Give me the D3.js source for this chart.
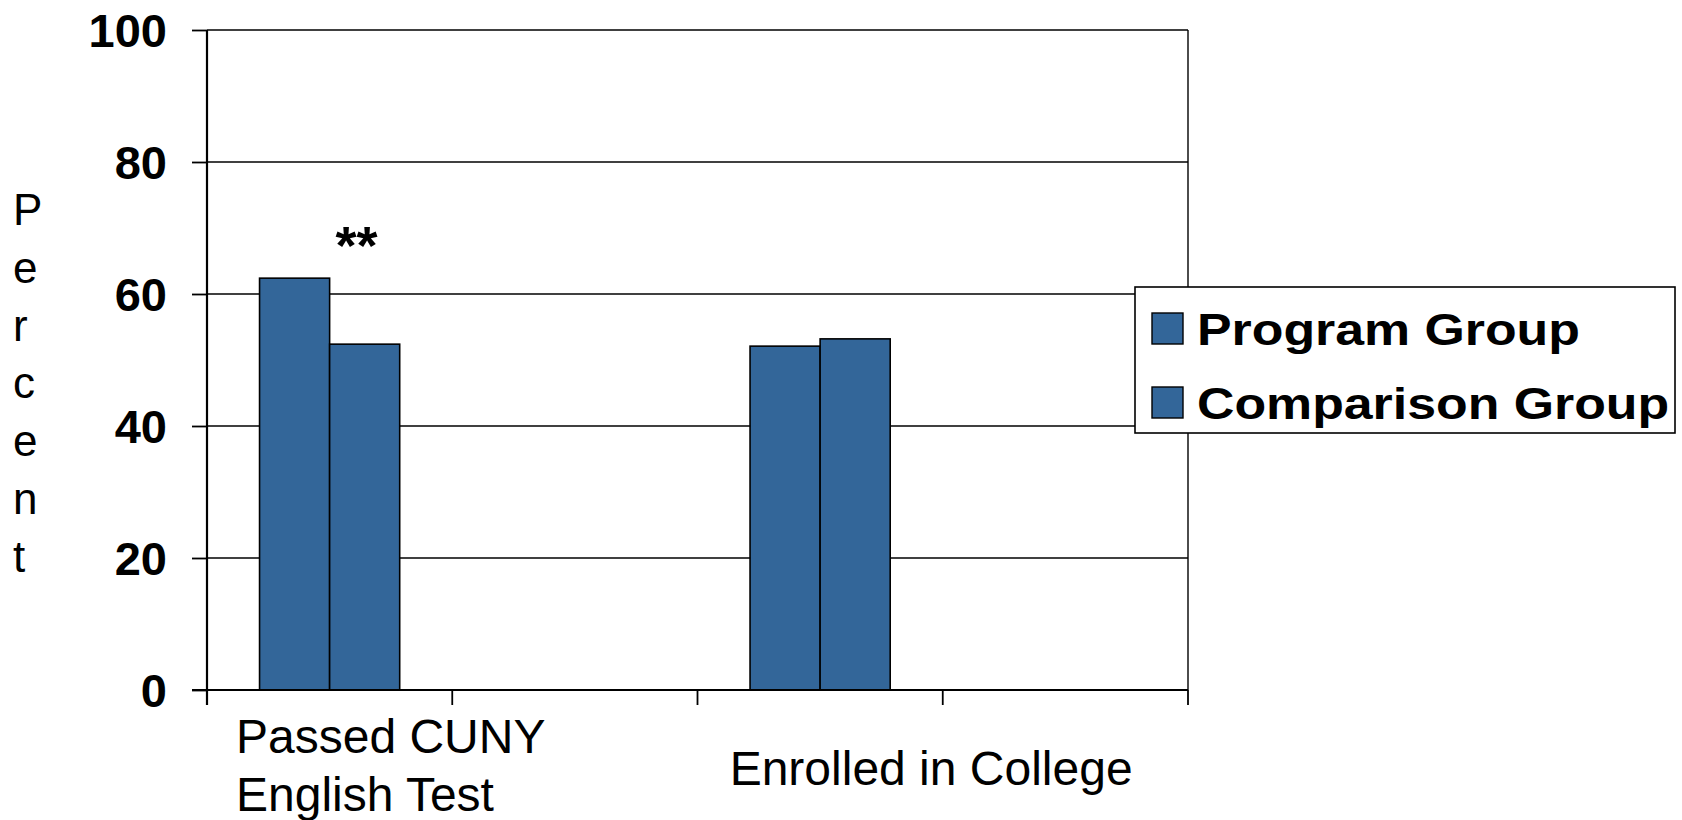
<!DOCTYPE html>
<html>
<head>
<meta charset="utf-8">
<script src="https://cdn.jsdelivr.net/npm/d3@7"></script>
<style>
  html, body { margin: 0; padding: 0; background: #fff; }
  svg { display: block; font-family: "Liberation Sans", Arial, sans-serif; }
</style>
</head>
<body>
<svg id="chart" width="1682" height="820"></svg>
<script>
// ---- data ----
const categories = ["Passed CUNY English Test", "", "Enrolled in College", ""];
const categoryLines = [["Passed CUNY", "English Test"], [], ["Enrolled in College"], []];
const seriesNames = ["Program Group", "Comparison Group"];
const programValues = [62.4, null, 52.1, null];
const comparisonValues = [52.4, null, 53.2, null];
const yTicks = [0, 20, 40, 60, 80, 100];
const annotations = [{ category: "Passed CUNY English Test", text: "**" }];
const axisTitle = "Percent";

(function () {
// ---- layout ----
const svg = d3.select("#chart");
const pLeft = 207, pRight = 1188, pTop = 30, pBottom = 690;
const barColor = "#336699";

const x = d3.scaleBand().domain(d3.range(categories.length)).range([pLeft, pRight]).padding(0);
const xs = d3.scaleBand().domain(seriesNames).range([0, x.bandwidth()]).paddingInner(0).paddingOuter(0.75);
const y = d3.scaleLinear().domain([0, 100]).range([pBottom, pTop]);

// gridlines
svg.append("g").selectAll("line").data(yTicks.filter(d => d > 0)).join("line")
  .attr("x1", pLeft).attr("x2", pRight)
  .attr("y1", d => y(d)).attr("y2", d => y(d))
  .attr("stroke", "#000").attr("stroke-width", 1.4);

// right border of plot area
svg.append("line").attr("x1", pRight).attr("x2", pRight).attr("y1", pTop).attr("y2", pBottom)
  .attr("stroke", "#000").attr("stroke-width", 1.4);

// bars
const seriesData = [programValues, comparisonValues];
seriesNames.forEach((name, si) => {
  svg.append("g").selectAll("rect")
    .data(seriesData[si].map((v, i) => ({ i, v })).filter(d => d.v != null))
    .join("rect")
    .attr("x", d => x(d.i) + xs(name))
    .attr("width", xs.bandwidth())
    .attr("y", d => y(d.v))
    .attr("height", d => y(0) - y(d.v))
    .attr("fill", barColor)
    .attr("stroke", "#000").attr("stroke-width", 1.6);
});

// y axis
const yAxis = d3.axisLeft(y).tickValues(yTicks).tickSize(15).tickPadding(25).tickSizeOuter(0);
const gy = svg.append("g").attr("transform", `translate(${pLeft},0)`).call(yAxis);
gy.select(".domain").attr("stroke", "#000").attr("stroke-width", 2.2)
  .attr("d", `M0,${y(100)}V${pBottom + 15}`);
gy.selectAll(".tick line").attr("stroke", "#000").attr("stroke-width", 1.8);
gy.selectAll(".tick text").attr("fill", "#000").attr("font-size", 47).attr("font-weight", "bold")
  .attr("font-family", "Liberation Sans, Arial, sans-serif").attr("dy", "0.36em");

// x axis
const xTickPos = d3.range(categories.length + 1).map(i => i < categories.length ? x(i) : x(categories.length - 1) + x.bandwidth());
const gx = svg.append("g");
gx.append("line").attr("x1", pLeft - 15).attr("x2", pRight).attr("y1", pBottom).attr("y2", pBottom)
  .attr("stroke", "#000").attr("stroke-width", 2.2);
gx.selectAll("line.tk").data(xTickPos.slice(1)).join("line").attr("class", "tk")
  .attr("x1", d => d).attr("x2", d => d).attr("y1", pBottom).attr("y2", pBottom + 15)
  .attr("stroke", "#000").attr("stroke-width", 1.8);

// category labels
const catFont = 48;
categoryLines.forEach((lines, i) => {
  if (!lines.length) return;
  const t = svg.append("text").attr("font-size", catFont).attr("fill", "#000");
  if (lines.length > 1) {
    t.attr("text-anchor", "start");
    lines.forEach((ln, k) => t.append("tspan").attr("x", x(i) + 29).attr("y", 753 + k * 58).text(ln));
  } else {
    t.attr("text-anchor", "middle").attr("x", x(i) + x.bandwidth() / 2 + 111).attr("y", 785).text(lines[0]);
  }
});

// annotation
annotations.forEach(a => {
  const i = categories.indexOf(a.category);
  svg.append("text").attr("x", x(i) + x.bandwidth() / 2 + 27).attr("y", y(d3.max([programValues[i], comparisonValues[i]])) - 14)
    .attr("text-anchor", "middle").attr("font-size", 54).attr("font-weight", "bold").text(a.text);
});

// vertical axis title (stacked letters)
svg.append("g").selectAll("text").data(axisTitle.split("")).join("text")
  .attr("x", 13).attr("y", (d, k) => 225 + k * 57.8)
  .attr("font-size", 44).attr("fill", "#000").text(d => d);

// legend
const lg = svg.append("g");
lg.append("rect").attr("x", 1135).attr("y", 287).attr("width", 540).attr("height", 146)
  .attr("fill", "#fff").attr("stroke", "#000").attr("stroke-width", 1.6);
seriesNames.forEach((name, k) => {
  const yy = 313 + k * 74;
  lg.append("rect").attr("x", 1152).attr("y", yy).attr("width", 31).attr("height", 31)
    .attr("fill", barColor).attr("stroke", "#000").attr("stroke-width", 1.4);
  lg.append("text").attr("transform", `translate(1197,${yy + 32}) scale(1.178,1)`)
    .attr("font-size", 44).attr("font-weight", "bold").attr("fill", "#000").text(name);
});
})();
</script>
</body>
</html>
